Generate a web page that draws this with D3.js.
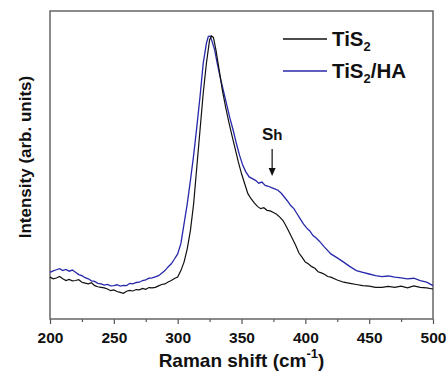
<!DOCTYPE html>
<html>
<head>
<meta charset="utf-8">
<script src="https://cdn.jsdelivr.net/npm/d3@7"></script>
<style>
  body { margin: 0; background: #fff; }
  text { font-family: "Liberation Sans", Arial, sans-serif; font-weight: bold; }
</style>
</head>
<body>
<script>
// Raman shift (cm-1) and intensity, bare TiS2
const tis2Shift = [200, 202.5, 205, 207.5, 210, 212.5, 215, 217.5, 220, 222.5, 225, 227.5, 230, 232.5, 235, 237.5,
  240, 242.5, 245, 247.5, 250, 252.5, 255, 257.5, 260, 262.5, 265, 267.5, 270, 272.5, 275, 277.5, 280, 282.5, 285,
  287.5, 290, 292.5, 295, 297.5, 300, 302.5, 305, 307.5, 310, 312.5, 315, 317.5, 320, 322.5, 325, 326.5, 328, 330,
  332.5, 335, 337.5, 340, 342.5, 345, 347.5, 350, 352.5, 355, 357.5, 360, 362.5, 365, 367.5, 370, 372.5, 375, 377.5,
  380, 382.5, 385, 387.5, 390, 392.5, 395, 397.5, 400, 402.5, 405, 407.5, 410, 412.5, 415, 417.5, 420, 425, 430,
  435, 440, 445, 450, 455, 460, 465, 470, 475, 480, 485, 490, 495, 500];
const tis2Intensity = [14.8, 14.2, 14.5, 15.0, 14.2, 13.6, 14.0, 13.5, 13.6, 13.9, 13.0, 12.7, 12.4, 12.8, 11.8, 11.4,
  11.2, 11.0, 10.6, 10.0, 10.3, 9.7, 9.4, 9.1, 9.8, 10.1, 9.9, 10.4, 10.3, 10.8, 10.5, 11.1, 11.0, 11.2, 11.7,
  12.2, 12.4, 13.1, 13.6, 14.3, 14.8, 17.1, 20.1, 24.8, 31.3, 40.7, 53.7, 66.7, 79.7, 90.3, 98.6, 100, 99.5, 95.0,
  88.0, 80.9, 75.0, 69.7, 64.9, 60.2, 55.5, 51.4, 47.8, 44.3, 42.5, 41.0, 39.8, 39.0, 39.3, 38.4, 38.2, 37.6, 37.0,
  36.0, 34.8, 32.8, 30.6, 28.3, 26.0, 23.3, 21.8, 20.1, 19.4, 18.5, 17.9, 16.7, 16.3, 15.8, 15.0, 14.8, 13.8, 13.0,
  12.6, 12.2, 11.8, 11.6, 11.2, 11.2, 11.5, 11.2, 11.6, 11.0, 11.7, 11.2, 11.0, 10.6];

// TiS2/HA
const haShift = [200, 202.5, 205, 207.5, 210, 212.5, 215, 217.5, 220, 222.5, 225, 227.5, 230, 232.5, 235, 237.5,
  240, 242.5, 245, 247.5, 250, 252.5, 255, 257.5, 260, 262.5, 265, 267.5, 270, 272.5, 275, 277.5, 280, 282.5, 285,
  287.5, 290, 292.5, 295, 297.5, 300, 302.5, 305, 307.5, 310, 312.5, 315, 317.5, 320, 322.5, 324, 325.5, 327, 329,
  331, 333.5, 336, 338.5, 341, 343.5, 346, 348.5, 351, 353.5, 356, 358.5, 361, 363.5, 366, 368.5, 371, 373.5, 376,
  378.5, 381, 383.5, 386, 388.5, 391, 393.5, 396, 398.5, 401, 403.5, 406, 408.5, 411, 415, 420, 425, 430, 435, 440,
  445, 450, 455, 460, 465, 470, 475, 480, 485, 490, 495, 500];
const haIntensity = [16.5, 17.0, 17.4, 17.8, 17.1, 17.5, 16.9, 17.3, 16.5, 15.7, 15.3, 14.6, 14.2, 13.5, 13.3, 12.6,
  12.4, 12.0, 12.2, 11.7, 11.8, 12.1, 11.6, 11.9, 11.8, 12.6, 12.4, 12.9, 13.0, 13.6, 13.8, 14.4, 14.5, 14.9, 15.3,
  16.2, 17.1, 18.4, 19.5, 21.2, 23.0, 26.6, 33.6, 40.7, 49.0, 57.8, 67.9, 78.5, 90.3, 97.4, 99.8, 100, 98.0, 95.0,
  90.3, 85.0, 80.3, 75.6, 70.8, 66.7, 62.0, 57.8, 54.3, 51.9, 50.2, 49.6, 49.0, 48.0, 48.4, 47.2, 46.9, 46.4, 46.0,
  45.5, 44.5, 43.1, 41.7, 40.1, 39.0, 37.2, 35.4, 33.6, 32.2, 31.1, 29.5, 28.6, 27.5, 25.4, 23.0, 21.6, 20.1, 18.5,
  17.1, 16.5, 15.9, 15.3, 15.0, 15.2, 14.8, 14.5, 14.2, 14.4, 13.6, 13.0, 11.8];

const xTicks = [200, 250, 300, 350, 400, 450, 500];
const seriesNames = ["TiS", "TiS"];
const seriesSuffix = ["", "/HA"];
const seriesColors = ["#111111", "#2828aa"];

const W = 446, H = 381;
const margin = { top: 11, right: 13, bottom: 62, left: 50 };
const width = W - margin.left - margin.right;
const height = H - margin.top - margin.bottom;

const svg = d3.select("body").append("svg")
    .attr("width", W)
    .attr("height", H);

const g = svg.append("g")
    .attr("transform", "translate(" + margin.left + "," + margin.top + ")");

const x = d3.scaleLinear().domain([200, 500]).range([0, width]);
const y = d3.scaleLinear().domain([0, 100]).range([height, 25]);

// bottom axis with minor ticks
const xAxis = g.append("g")
    .attr("transform", "translate(0," + height + ")")
    .call(d3.axisBottom(x).tickValues(d3.range(200, 501, 25)).tickSize(4).tickFormat(d => xTicks.includes(d) ? d : ""));
xAxis.select(".domain").remove();
xAxis.selectAll(".tick line").attr("stroke", "#555").attr("stroke-width", 1.2)
    .attr("y2", d => xTicks.includes(d) ? 5 : 3);
xAxis.selectAll(".tick text")
    .attr("font-size", 15.5).attr("fill", "#111").attr("dy", "1.1em")
    .style("font-family", "Liberation Sans, Arial, sans-serif").style("font-weight", "bold");

// frame
g.append("rect")
    .attr("width", width).attr("height", height)
    .attr("fill", "none").attr("stroke", "#666").attr("stroke-width", 1.5);

const line = d3.line().x(d => x(d[0])).y(d => y(d[1]));

const series = [
  d3.zip(tis2Shift, tis2Intensity),
  d3.zip(haShift, haIntensity)
];

// HA first, black on top
g.append("path").datum(series[1])
    .attr("d", line).attr("fill", "none")
    .attr("stroke", seriesColors[1]).attr("stroke-width", 1.3);
g.append("path").datum(series[0])
    .attr("d", line).attr("fill", "none")
    .attr("stroke", seriesColors[0]).attr("stroke-width", 1.2);

// legend
seriesNames.forEach(function(n, i) {
  const ly = 28 + i * 32;
  g.append("line")
      .attr("x1", 233).attr("x2", 277).attr("y1", ly).attr("y2", ly)
      .attr("stroke", seriesColors[i]).attr("stroke-width", 1.4);
  const t = g.append("text").attr("x", 282).attr("y", ly + 7)
      .attr("font-size", 20.5).attr("fill", "#111");
  t.append("tspan").text(n);
  t.append("tspan").attr("font-size", 13).attr("dy", 5).text("2");
  if (seriesSuffix[i]) t.append("tspan").attr("dy", -5).text(seriesSuffix[i]);
});

// shoulder annotation
const shX = x(374);
g.append("text").attr("x", shX).attr("y", 129).attr("text-anchor", "middle")
    .attr("font-size", 17).attr("fill", "#111")
    .call(t => {
      t.append("tspan").text("S");
      t.append("tspan").attr("font-size", 15).text("h");
    });
g.append("line").attr("x1", shX).attr("x2", shX).attr("y1", 138).attr("y2", 160)
    .attr("stroke", "#111").attr("stroke-width", 1.2);
g.append("path")
    .attr("d", "M" + (shX - 3.5) + ",157 L" + (shX + 3.5) + ",157 L" + shX + ",165 Z")
    .attr("fill", "#111");

// axis titles
svg.append("text")
    .attr("x", margin.left + width / 2).attr("y", 367)
    .attr("text-anchor", "middle").attr("font-size", 19).attr("fill", "#111")
    .call(t => {
      t.append("tspan").text("Raman shift (cm");
      t.append("tspan").attr("font-size", 13).attr("dy", -9).text("-1");
      t.append("tspan").attr("dy", 9).text(")");
    });

svg.append("text")
    .attr("transform", "translate(31," + (margin.top + 146) + ") rotate(-90)")
    .attr("text-anchor", "middle").attr("font-size", 17).attr("fill", "#111")
    .text("Intensity (arb. units)");
</script>
</body>
</html>
